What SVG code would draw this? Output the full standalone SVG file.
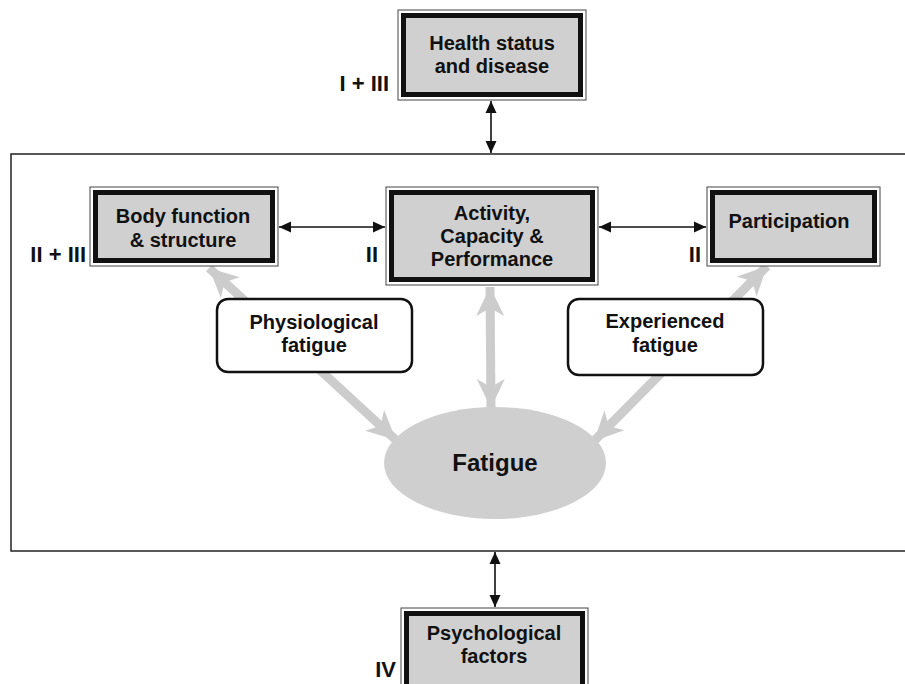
<svg xmlns="http://www.w3.org/2000/svg" width="905" height="684" viewBox="0 0 905 684">
<defs>
<style>
text{font-family:"Liberation Sans",Arial,sans-serif;font-weight:bold;fill:#111;text-anchor:middle}
.t{font-size:20px}
.lab{font-size:22px;text-anchor:end}
.outer{fill:#fff;stroke:#444;stroke-width:1}
.inner{fill:#d0d0d0;stroke:#111;stroke-width:5}
.rbox{fill:#fff;stroke:#111;stroke-width:2.5}
.blk{stroke:#111;stroke-width:1.6;fill:none;marker-start:url(#bh);marker-end:url(#bh)}
.gry{stroke:#cccccc;stroke-width:9;fill:none;marker-start:url(#gh);marker-end:url(#gh)}
</style>
<marker id="bh" markerUnits="userSpaceOnUse" viewBox="-13 -7 14 14" refX="0" refY="0" markerWidth="14" markerHeight="14" orient="auto-start-reverse">
<path d="M0,0 L-12,-5.5 L-12,5.5 Z" fill="#111"/>
</marker>
<marker id="gh" markerUnits="userSpaceOnUse" viewBox="-30 -16 31 32" refX="0" refY="0" markerWidth="31" markerHeight="32" orient="auto-start-reverse">
<path d="M0,0 L-29,-14 L-21,0 L-29,14 Z" fill="#cccccc"/>
</marker>
</defs>

<rect x="11" y="154" width="900" height="397" fill="none" stroke="#222" stroke-width="1.5"/>

<g id="connectors">
<line class="blk" x1="491" y1="101" x2="491" y2="153"/>
<line class="blk" x1="279" y1="227" x2="385" y2="227"/>
<line class="blk" x1="599" y1="227" x2="706" y2="227"/>
<line class="blk" x1="495" y1="552" x2="495" y2="607"/>
<line class="gry" x1="490" y1="287" x2="491" y2="408"/>
<line class="gry" x1="209" y1="268" x2="396" y2="440"/>
<line class="gry" x1="767" y1="266" x2="594" y2="441"/>
</g>

<g id="health">
<rect class="outer" x="398" y="10" width="188" height="90"/>
<rect class="inner" x="403.5" y="15.5" width="177" height="79"/>
<text class="t" x="492" y="50">Health status</text>
<text class="t" x="492" y="73">and disease</text>
<text class="lab" x="389" y="91">I + III</text>
</g>

<g id="body">
<rect class="outer" x="90" y="187" width="188" height="79"/>
<rect class="inner" x="95.5" y="192.5" width="177" height="68"/>
<text class="t" x="183" y="223">Body function</text>
<text class="t" x="183" y="247">&amp; structure</text>
<text class="lab" x="86" y="262">II + III</text>
</g>

<g id="activity">
<rect class="outer" x="386" y="187" width="212" height="98"/>
<rect class="inner" x="391.5" y="192.5" width="201" height="87"/>
<text class="t" x="492" y="220">Activity,</text>
<text class="t" x="492" y="243">Capacity &amp;</text>
<text class="t" x="492" y="266">Performance</text>
<text class="lab" x="378" y="262">II</text>
</g>

<g id="participation">
<rect class="outer" x="707" y="187" width="173" height="79"/>
<rect class="inner" x="712.5" y="192.5" width="162" height="68"/>
<text class="t" x="789" y="228">Participation</text>
<text class="lab" x="701" y="262">II</text>
</g>

<g id="physiological">
<rect class="rbox" x="217" y="299" width="195" height="73" rx="11"/>
<text class="t" x="314" y="329">Physiological</text>
<text class="t" x="314" y="352">fatigue</text>
</g>

<g id="experienced">
<rect class="rbox" x="568" y="299" width="195" height="76" rx="11"/>
<text class="t" x="665" y="328">Experienced</text>
<text class="t" x="665" y="352">fatigue</text>
</g>

<g id="fatigue">
<ellipse cx="495" cy="463" rx="111" ry="56" fill="#cfcfcf"/>
<text x="495" y="471" style="font-size:24px">Fatigue</text>
</g>

<g id="psych">
<rect class="outer" x="401" y="608" width="187" height="90"/>
<rect class="inner" x="406.5" y="613.5" width="176" height="79"/>
<text class="t" x="494" y="640">Psychological</text>
<text class="t" x="494" y="663">factors</text>
<text class="lab" x="396" y="677">IV</text>
</g>
</svg>
